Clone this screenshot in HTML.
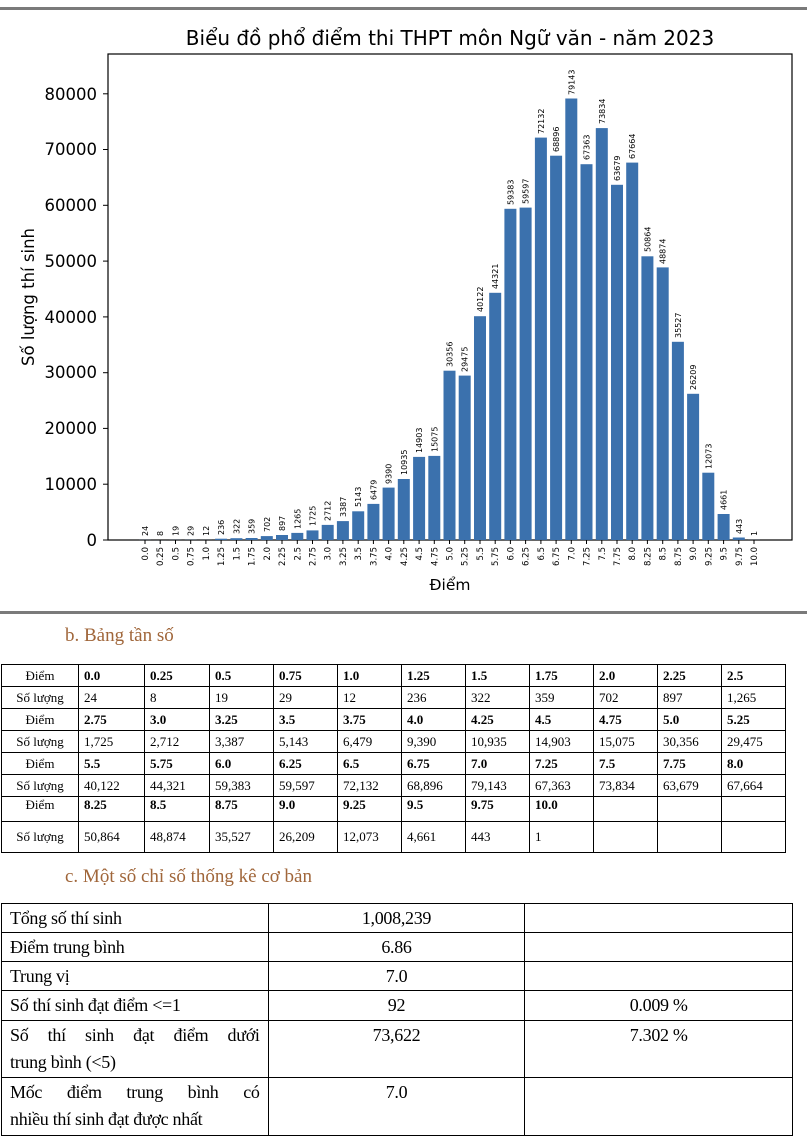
<!DOCTYPE html>
<html><head><meta charset="utf-8"><style>
body{margin:0;width:807px;height:1137px;background:#fff;position:relative;overflow:hidden;font-family:"Liberation Serif",serif}
.rule{position:absolute;left:0;width:807px;height:3px;background:#7a7a7a}
.h{position:absolute;left:65px;color:#a0663a;font-size:19px}
table{border-collapse:collapse;position:absolute;left:1px}
#f td{border:1px solid #000;font-size:13px;padding:0 0 0 5px;height:21px}
#f td:first-child{text-align:center;padding:0}
#f tr.p td{font-weight:bold}
#f tr.p td:first-child{font-weight:normal}
#s td{border:1px solid #000;font-size:18px;vertical-align:top;padding:1px 8px 0 8px;line-height:27px;letter-spacing:-0.3px}
#s td.c{text-align:center}
</style></head><body>
<div class="rule" style="top:7px"></div>
<svg style="position:absolute;left:0;top:0" width="807" height="612" font-family="DejaVu Sans, sans-serif">
<text x="450" y="45" font-size="20" text-anchor="middle">Biểu đồ phổ điểm thi THPT môn Ngữ văn - năm 2023</text>
<rect x="108" y="54" width="684" height="486" fill="none" stroke="#000" stroke-width="1.2"/>
<g font-size="16.5" text-anchor="end">
<text x="97" y="546">0</text><text x="97" y="490">10000</text><text x="97" y="434">20000</text><text x="97" y="378">30000</text><text x="97" y="323">40000</text><text x="97" y="267">50000</text><text x="97" y="211">60000</text><text x="97" y="155">70000</text><text x="97" y="100">80000</text>
</g>
<g stroke="#000"><line x1="103" x2="108" y1="540" y2="540"/><line x1="103" x2="108" y1="484.2" y2="484.2"/><line x1="103" x2="108" y1="428.4" y2="428.4"/><line x1="103" x2="108" y1="372.7" y2="372.7"/><line x1="103" x2="108" y1="316.9" y2="316.9"/><line x1="103" x2="108" y1="261.1" y2="261.1"/><line x1="103" x2="108" y1="205.3" y2="205.3"/><line x1="103" x2="108" y1="149.5" y2="149.5"/><line x1="103" x2="108" y1="93.8" y2="93.8"/></g>
<text transform="translate(34,297) rotate(-90)" font-size="16.5" text-anchor="middle">Số lượng thí sinh</text>
<text x="450" y="590" font-size="15.5" text-anchor="middle">Điểm</text>
<g fill="#3b71ad">
<rect x="139" y="539.9" width="12" height="0.13"/><rect x="154.2" y="540" width="12" height="0.04"/><rect x="169.5" y="539.9" width="12" height="0.11"/><rect x="184.7" y="539.8" width="12" height="0.16"/><rect x="199.9" y="539.9" width="12" height="0.07"/><rect x="215.1" y="538.7" width="12" height="1.32"/><rect x="230.4" y="538.2" width="12" height="1.8"/><rect x="245.6" y="538" width="12" height="2"/><rect x="260.8" y="536.1" width="12" height="3.92"/><rect x="276" y="535" width="12" height="5"/><rect x="291.3" y="532.9" width="12" height="7.06"/><rect x="306.5" y="530.4" width="12" height="9.62"/><rect x="321.7" y="524.9" width="12" height="15.13"/><rect x="336.9" y="521.1" width="12" height="18.89"/><rect x="352.2" y="511.3" width="12" height="28.69"/><rect x="367.4" y="503.9" width="12" height="36.14"/><rect x="382.6" y="487.6" width="12" height="52.38"/><rect x="397.8" y="479" width="12" height="61"/><rect x="413.1" y="456.9" width="12" height="83.13"/><rect x="428.3" y="455.9" width="12" height="84.09"/><rect x="443.5" y="370.7" width="12" height="169.33"/><rect x="458.7" y="375.6" width="12" height="164.41"/><rect x="474" y="316.2" width="12" height="223.8"/><rect x="489.2" y="292.8" width="12" height="247.22"/><rect x="504.4" y="208.8" width="12" height="331.24"/><rect x="519.6" y="207.6" width="12" height="332.44"/><rect x="534.9" y="137.6" width="12" height="402.35"/><rect x="550.1" y="155.7" width="12" height="384.3"/><rect x="565.3" y="98.5" width="12" height="441.46"/><rect x="580.5" y="164.2" width="12" height="375.75"/><rect x="595.8" y="128.1" width="12" height="411.85"/><rect x="611" y="184.8" width="12" height="355.2"/><rect x="626.2" y="162.6" width="12" height="377.43"/><rect x="641.4" y="256.3" width="12" height="283.72"/><rect x="656.7" y="267.4" width="12" height="272.62"/><rect x="671.9" y="341.8" width="12" height="198.17"/><rect x="687.1" y="393.8" width="12" height="146.19"/><rect x="702.3" y="472.7" width="12" height="67.34"/><rect x="717.6" y="514" width="12" height="26"/><rect x="732.8" y="537.5" width="12" height="2.47"/><rect x="748" y="539.9" width="12" height="0.1"/>
</g>
<g font-size="8">
<text transform="translate(148,536) rotate(-90)">24</text><text transform="translate(163.2,536) rotate(-90)">8</text><text transform="translate(178.5,536) rotate(-90)">19</text><text transform="translate(193.7,536) rotate(-90)">29</text><text transform="translate(208.9,536) rotate(-90)">12</text><text transform="translate(224.1,535) rotate(-90)">236</text><text transform="translate(239.4,534) rotate(-90)">322</text><text transform="translate(254.6,534) rotate(-90)">359</text><text transform="translate(269.8,532) rotate(-90)">702</text><text transform="translate(285,531) rotate(-90)">897</text><text transform="translate(300.3,529) rotate(-90)">1265</text><text transform="translate(315.5,526) rotate(-90)">1725</text><text transform="translate(330.7,521) rotate(-90)">2712</text><text transform="translate(345.9,517) rotate(-90)">3387</text><text transform="translate(361.2,507) rotate(-90)">5143</text><text transform="translate(376.4,500) rotate(-90)">6479</text><text transform="translate(391.6,484) rotate(-90)">9390</text><text transform="translate(406.8,475) rotate(-90)">10935</text><text transform="translate(422.1,453) rotate(-90)">14903</text><text transform="translate(437.3,452) rotate(-90)">15075</text><text transform="translate(452.5,367) rotate(-90)">30356</text><text transform="translate(467.7,372) rotate(-90)">29475</text><text transform="translate(483,312) rotate(-90)">40122</text><text transform="translate(498.2,289) rotate(-90)">44321</text><text transform="translate(513.4,205) rotate(-90)">59383</text><text transform="translate(528.6,204) rotate(-90)">59597</text><text transform="translate(543.9,134) rotate(-90)">72132</text><text transform="translate(559.1,152) rotate(-90)">68896</text><text transform="translate(574.3,95) rotate(-90)">79143</text><text transform="translate(589.5,160) rotate(-90)">67363</text><text transform="translate(604.8,124) rotate(-90)">73834</text><text transform="translate(620,181) rotate(-90)">63679</text><text transform="translate(635.2,159) rotate(-90)">67664</text><text transform="translate(650.4,252) rotate(-90)">50864</text><text transform="translate(665.7,264) rotate(-90)">48874</text><text transform="translate(680.9,338) rotate(-90)">35527</text><text transform="translate(696.1,390) rotate(-90)">26209</text><text transform="translate(711.3,469) rotate(-90)">12073</text><text transform="translate(726.6,510) rotate(-90)">4661</text><text transform="translate(741.8,534) rotate(-90)">443</text><text transform="translate(757,536) rotate(-90)">1</text>
</g>
<g stroke="#000"><line x1="145" x2="145" y1="540" y2="544"/><line x1="160.2" x2="160.2" y1="540" y2="544"/><line x1="175.5" x2="175.5" y1="540" y2="544"/><line x1="190.7" x2="190.7" y1="540" y2="544"/><line x1="205.9" x2="205.9" y1="540" y2="544"/><line x1="221.1" x2="221.1" y1="540" y2="544"/><line x1="236.4" x2="236.4" y1="540" y2="544"/><line x1="251.6" x2="251.6" y1="540" y2="544"/><line x1="266.8" x2="266.8" y1="540" y2="544"/><line x1="282" x2="282" y1="540" y2="544"/><line x1="297.3" x2="297.3" y1="540" y2="544"/><line x1="312.5" x2="312.5" y1="540" y2="544"/><line x1="327.7" x2="327.7" y1="540" y2="544"/><line x1="342.9" x2="342.9" y1="540" y2="544"/><line x1="358.2" x2="358.2" y1="540" y2="544"/><line x1="373.4" x2="373.4" y1="540" y2="544"/><line x1="388.6" x2="388.6" y1="540" y2="544"/><line x1="403.8" x2="403.8" y1="540" y2="544"/><line x1="419.1" x2="419.1" y1="540" y2="544"/><line x1="434.3" x2="434.3" y1="540" y2="544"/><line x1="449.5" x2="449.5" y1="540" y2="544"/><line x1="464.7" x2="464.7" y1="540" y2="544"/><line x1="480" x2="480" y1="540" y2="544"/><line x1="495.2" x2="495.2" y1="540" y2="544"/><line x1="510.4" x2="510.4" y1="540" y2="544"/><line x1="525.6" x2="525.6" y1="540" y2="544"/><line x1="540.9" x2="540.9" y1="540" y2="544"/><line x1="556.1" x2="556.1" y1="540" y2="544"/><line x1="571.3" x2="571.3" y1="540" y2="544"/><line x1="586.5" x2="586.5" y1="540" y2="544"/><line x1="601.8" x2="601.8" y1="540" y2="544"/><line x1="617" x2="617" y1="540" y2="544"/><line x1="632.2" x2="632.2" y1="540" y2="544"/><line x1="647.4" x2="647.4" y1="540" y2="544"/><line x1="662.7" x2="662.7" y1="540" y2="544"/><line x1="677.9" x2="677.9" y1="540" y2="544"/><line x1="693.1" x2="693.1" y1="540" y2="544"/><line x1="708.3" x2="708.3" y1="540" y2="544"/><line x1="723.6" x2="723.6" y1="540" y2="544"/><line x1="738.8" x2="738.8" y1="540" y2="544"/><line x1="754" x2="754" y1="540" y2="544"/></g>
<g font-size="8.5" text-anchor="end">
<text transform="translate(148,547) rotate(-90)">0.0</text><text transform="translate(163.2,547) rotate(-90)">0.25</text><text transform="translate(178.5,547) rotate(-90)">0.5</text><text transform="translate(193.7,547) rotate(-90)">0.75</text><text transform="translate(208.9,547) rotate(-90)">1.0</text><text transform="translate(224.1,547) rotate(-90)">1.25</text><text transform="translate(239.4,547) rotate(-90)">1.5</text><text transform="translate(254.6,547) rotate(-90)">1.75</text><text transform="translate(269.8,547) rotate(-90)">2.0</text><text transform="translate(285,547) rotate(-90)">2.25</text><text transform="translate(300.3,547) rotate(-90)">2.5</text><text transform="translate(315.5,547) rotate(-90)">2.75</text><text transform="translate(330.7,547) rotate(-90)">3.0</text><text transform="translate(345.9,547) rotate(-90)">3.25</text><text transform="translate(361.2,547) rotate(-90)">3.5</text><text transform="translate(376.4,547) rotate(-90)">3.75</text><text transform="translate(391.6,547) rotate(-90)">4.0</text><text transform="translate(406.8,547) rotate(-90)">4.25</text><text transform="translate(422.1,547) rotate(-90)">4.5</text><text transform="translate(437.3,547) rotate(-90)">4.75</text><text transform="translate(452.5,547) rotate(-90)">5.0</text><text transform="translate(467.7,547) rotate(-90)">5.25</text><text transform="translate(483,547) rotate(-90)">5.5</text><text transform="translate(498.2,547) rotate(-90)">5.75</text><text transform="translate(513.4,547) rotate(-90)">6.0</text><text transform="translate(528.6,547) rotate(-90)">6.25</text><text transform="translate(543.9,547) rotate(-90)">6.5</text><text transform="translate(559.1,547) rotate(-90)">6.75</text><text transform="translate(574.3,547) rotate(-90)">7.0</text><text transform="translate(589.5,547) rotate(-90)">7.25</text><text transform="translate(604.8,547) rotate(-90)">7.5</text><text transform="translate(620,547) rotate(-90)">7.75</text><text transform="translate(635.2,547) rotate(-90)">8.0</text><text transform="translate(650.4,547) rotate(-90)">8.25</text><text transform="translate(665.7,547) rotate(-90)">8.5</text><text transform="translate(680.9,547) rotate(-90)">8.75</text><text transform="translate(696.1,547) rotate(-90)">9.0</text><text transform="translate(711.3,547) rotate(-90)">9.25</text><text transform="translate(726.6,547) rotate(-90)">9.5</text><text transform="translate(741.8,547) rotate(-90)">9.75</text><text transform="translate(757,547) rotate(-90)">10.0</text>
</g>
</svg>
<div class="rule" style="top:611px"></div>
<div class="h" style="top:625px">b. Bảng tần số</div>
<table id="f" style="top:664px;width:785px">
<colgroup><col style="width:77px"><col style="width:66px"><col style="width:65px"><col style="width:64px"><col style="width:64px"><col style="width:64px"><col style="width:64px"><col style="width:64px"><col style="width:64px"><col style="width:64px"><col style="width:64px"><col style="width:64px"></colgroup>
<tr class="p"><td>Điểm</td><td>0.0</td><td>0.25</td><td>0.5</td><td>0.75</td><td>1.0</td><td>1.25</td><td>1.5</td><td>1.75</td><td>2.0</td><td>2.25</td><td>2.5</td></tr>
<tr><td>Số lượng</td><td>24</td><td>8</td><td>19</td><td>29</td><td>12</td><td>236</td><td>322</td><td>359</td><td>702</td><td>897</td><td>1,265</td></tr>
<tr class="p"><td>Điểm</td><td>2.75</td><td>3.0</td><td>3.25</td><td>3.5</td><td>3.75</td><td>4.0</td><td>4.25</td><td>4.5</td><td>4.75</td><td>5.0</td><td>5.25</td></tr>
<tr><td>Số lượng</td><td>1,725</td><td>2,712</td><td>3,387</td><td>5,143</td><td>6,479</td><td>9,390</td><td>10,935</td><td>14,903</td><td>15,075</td><td>30,356</td><td>29,475</td></tr>
<tr class="p"><td>Điểm</td><td>5.5</td><td>5.75</td><td>6.0</td><td>6.25</td><td>6.5</td><td>6.75</td><td>7.0</td><td>7.25</td><td>7.5</td><td>7.75</td><td>8.0</td></tr>
<tr><td>Số lượng</td><td>40,122</td><td>44,321</td><td>59,383</td><td>59,597</td><td>72,132</td><td>68,896</td><td>79,143</td><td>67,363</td><td>73,834</td><td>63,679</td><td>67,664</td></tr>
<tr class="p"><td style="vertical-align:top;height:24px">Điểm</td><td style="vertical-align:top">8.25</td><td style="vertical-align:top">8.5</td><td style="vertical-align:top">8.75</td><td style="vertical-align:top">9.0</td><td style="vertical-align:top">9.25</td><td style="vertical-align:top">9.5</td><td style="vertical-align:top">9.75</td><td style="vertical-align:top">10.0</td><td></td><td></td><td></td></tr>
<tr><td style="height:30px">Số lượng</td><td>50,864</td><td>48,874</td><td>35,527</td><td>26,209</td><td>12,073</td><td>4,661</td><td>443</td><td>1</td><td></td><td></td><td></td></tr>
</table>
<div class="h" style="top:866px">c. Một số chỉ số thống kê cơ bản</div>
<table id="s" style="top:903px;width:792px">
<colgroup><col style="width:267px"><col style="width:257px"><col style="width:268px"></colgroup>
<tr style="height:29px"><td>Tổng số thí sinh</td><td class="c">1,008,239</td><td></td></tr>
<tr style="height:29px"><td>Điểm trung bình</td><td class="c">6.86</td><td></td></tr>
<tr style="height:29px"><td>Trung vị</td><td class="c">7.0</td><td></td></tr>
<tr style="height:30px"><td>Số thí sinh đạt điểm &lt;=1</td><td class="c">92</td><td class="c">0.009 %</td></tr>
<tr style="height:57px"><td><div style="text-align:justify;text-align-last:justify">Số thí sinh đạt điểm dưới</div>trung bình (&lt;5)</td><td class="c">73,622</td><td class="c">7.302 %</td></tr>
<tr style="height:58px"><td><div style="text-align:justify;text-align-last:justify">Mốc điểm trung bình có</div>nhiều thí sinh đạt được nhất</td><td class="c">7.0</td><td></td></tr>
</table>
</body></html>
